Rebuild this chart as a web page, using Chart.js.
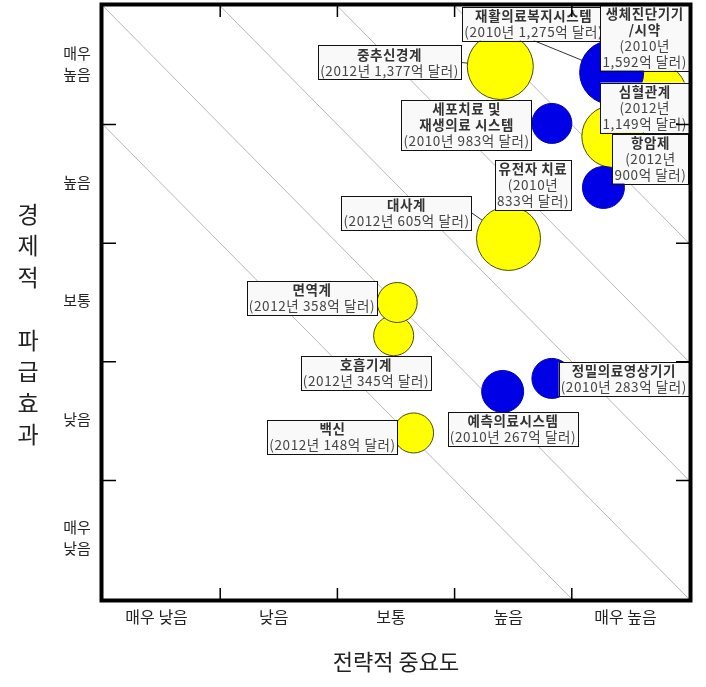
<!DOCTYPE html>
<html>
<head>
<meta charset="utf-8">
<script src="https://cdn.jsdelivr.net/npm/chart.js@4.4.1/dist/chart.umd.min.js"></script>
<style>
  html, body { margin: 0; padding: 0; background: #ffffff; }
  canvas { display: block; }
</style>
</head>
<body>
<canvas id="chart1" width="706" height="687"></canvas>
<script>
// axis categories (5 steps each)
const xLabels = ['매우 낮음', '낮음', '보통', '높음', '매우 높음'];
const yLabels = [['매우', '낮음'], '낮음', '보통', '높음', ['매우', '높음']];

// 2012 market (yellow)
const names2012 = ['중추신경계', '심혈관계', '항암제', '대사계', '호흡기계', '면역계', '백신'];
const value2012 = [1377, 1149, 900, 605, 345, 358, 148];
const strat2012 = [3.39, 4.71, 4.35, 3.46, 2.48, 2.51, 2.65];
const econ2012 = [4.49, 4.25, 3.90, 3.04, 2.22, 2.50, 1.40];
const size2012 = [33, 32, 31, 32, 20, 20, 20];

// 2010 market (blue)
const names2010 = ['생체진단기기/시약', '재활의료복지시스템', '세포치료 및 재생의료 시스템', '유전자 치료', '정밀의료영상기기', '예측의료시스템'];
const value2010 = [1592, 1275, 983, 833, 283, 267];
const strat2010 = [4.65, 4.34, 3.83, 4.27, 3.83, 3.41];
const econ2010 = [4.73, 4.44, 4.01, 3.47, 1.86, 1.75];
const size2010 = [30, 32, 20, 21, 20, 21];

// reference lines x + y = k
const diagonals = [4, 5, 6, 7, 8, 9];

// callout boxes: centre in axis units, optional name wrap / value wrap / leader line side
const labelBoxes = {
  '중추신경계': { at: [2.445, 4.524], link: 'right' },
  '재활의료복지시스템': { at: [3.675, 4.852], link: 'bottom' },
  '생체진단기기/시약': { at: [4.637, 4.734], name: ['생체진단기기', '/시약'], split: true },
  '세포치료 및 재생의료 시스템': { at: [3.102, 3.997], name: ['세포치료 및', '재생의료 시스템'], link: 'right' },
  '심혈관계': { at: [4.637, 4.144], split: true },
  '항암제': { at: [4.671, 3.714], split: true },
  '유전자 치료': { at: [3.669, 3.491], split: true },
  '대사계': { at: [2.590, 3.255], link: 'right' },
  '면역계': { at: [1.783, 2.538] },
  '호흡기계': { at: [2.244, 1.906] },
  '백신': { at: [1.958, 1.370] },
  '예측의료시스템': { at: [3.498, 1.433] },
  '정밀의료영상기기': { at: [4.471, 1.855] }
};

const FONT = '"Noto Sans CJK KR", "Noto Sans", sans-serif';
Chart.defaults.font.family = FONT;

function points(xs, ys, rs) {
  return xs.map((v, i) => ({ x: v, y: ys[i], r: rs[i] }));
}

const items = [];
names2012.forEach((n, i) => items.push({ name: n, year: 2012, value: value2012[i], x: strat2012[i], y: econ2012[i] }));
names2010.forEach((n, i) => items.push({ name: n, year: 2010, value: value2010[i], x: strat2010[i], y: econ2010[i] }));

function setFont(ctx, bold) {
  ctx.font = (bold ? 'bold ' : '') + '13.5px ' + FONT;
  ctx.letterSpacing = '0.6px';
}

function boxRect(ctx, item, area, x, y) {
  const cfg = labelBoxes[item.name];
  const nameLines = cfg.name || [item.name];
  const val = item.value.toLocaleString('en-US') + '억 달러)';
  const valLines = cfg.split ? ['(' + item.year + '년', val] : ['(' + item.year + '년 ' + val];
  setFont(ctx, true);
  let w = Math.max(...nameLines.map(t => ctx.measureText(t).width));
  setFont(ctx, false);
  w = Math.max(w, ...valLines.map(t => ctx.measureText(t).width));
  w += 4;
  const lh = 16;
  const h = (nameLines.length + valLines.length) * lh + 2;
  const cx = x.getPixelForValue(cfg.at[0]);
  const cy = y.getPixelForValue(cfg.at[1]);
  let left = cx - w / 2;
  let edge = false;
  if (left + w > area.right) { left = area.right - w; edge = true; }
  return { left, top: cy - h / 2, w, h, nameLines, valLines, lh, cfg, edge };
}

function drawBox(ctx, b) {
  ctx.fillStyle = '#f9f9f9';
  ctx.fillRect(b.left, b.top, b.w, b.h);
  ctx.strokeStyle = '#111';
  ctx.lineWidth = 1;
  ctx.strokeRect(Math.round(b.left) + 0.5, Math.round(b.top) + 0.5, Math.round(b.w), Math.round(b.h));
  ctx.textAlign = 'center';
  ctx.textBaseline = 'middle';
  const cx = b.left + b.w / 2;
  let ty = b.top + 1 + b.lh / 2;
  setFont(ctx, true);
  ctx.fillStyle = '#333';
  b.nameLines.forEach(t => { ctx.fillText(t, cx, ty); ty += b.lh; });
  setFont(ctx, false);
  ctx.fillStyle = '#444';
  b.valLines.forEach(t => { ctx.fillText(t, cx, ty); ty += b.lh; });
}

const overlay = {
  id: 'overlay',
  beforeDatasetsDraw(chart) {
    const { ctx, chartArea: a, scales: { x, y } } = chart;
    ctx.save();
    ctx.beginPath();
    ctx.rect(a.left, a.top, a.width, a.height);
    ctx.clip();
    ctx.strokeStyle = '#b8b8b8';
    ctx.lineWidth = 1;
    diagonals.forEach(k => {
      ctx.beginPath();
      ctx.moveTo(x.getPixelForValue(k - 5), y.getPixelForValue(5));
      ctx.lineTo(x.getPixelForValue(5), y.getPixelForValue(k - 5));
      ctx.stroke();
    });
    // leader lines
    ctx.strokeStyle = '#333';
    items.forEach(it => {
      const b = boxRect(ctx, it, a, x, y);
      if (!b.cfg.link) return;
      const sx = b.cfg.link === 'right' ? b.left + b.w : b.left + b.w / 2;
      const sy = b.cfg.link === 'right' ? b.top + b.h / 2 : b.top + b.h;
      ctx.beginPath();
      ctx.moveTo(sx, sy);
      ctx.lineTo(x.getPixelForValue(it.x), y.getPixelForValue(it.y));
      ctx.stroke();
    });
    ctx.restore();
  },
  afterDatasetsDraw(chart) {
    const { ctx, chartArea: a, scales: { x, y } } = chart;
    ctx.save();
    // callout boxes (the ones pinned to the right edge go on top)
    const boxes = items.map(it => boxRect(ctx, it, a, x, y));
    boxes.filter(b => !b.edge).forEach(b => drawBox(ctx, b));
    boxes.filter(b => b.edge).forEach(b => drawBox(ctx, b));
    ctx.letterSpacing = '0px';

    // inner tick marks on all four sides
    ctx.strokeStyle = '#000';
    ctx.lineWidth = 1.5;
    for (let v = 1; v < 5; v++) {
      const px = x.getPixelForValue(v);
      const py = y.getPixelForValue(v);
      ctx.beginPath();
      ctx.moveTo(px, a.bottom); ctx.lineTo(px, a.bottom - 11);
      ctx.moveTo(px, a.top); ctx.lineTo(px, a.top + 11);
      ctx.moveTo(a.left, py); ctx.lineTo(a.left + 13, py);
      ctx.moveTo(a.right, py); ctx.lineTo(a.right - 13, py);
      ctx.stroke();
    }
    // heavy frame
    ctx.lineWidth = 4;
    ctx.strokeRect(a.left - 1.5, a.top - 1.5, a.width + 3, a.height + 3);

    // category labels at the middle of each band
    ctx.fillStyle = '#222';
    ctx.textAlign = 'center';
    ctx.textBaseline = 'middle';
    ctx.font = '16px ' + FONT;
    xLabels.forEach((t, i) => {
      ctx.fillText(t, x.getPixelForValue(i + 0.5) - 5, a.bottom + 18);
    });
    ctx.font = '15px ' + FONT;
    yLabels.forEach((t, i) => {
      const lines = Array.isArray(t) ? t : [t];
      const py = y.getPixelForValue(i + 0.5);
      lines.forEach((l, j) => {
        ctx.fillText(l, 77, py + (j - (lines.length - 1) / 2) * 21 - 2);
      });
    });

    // stacked vertical y title
    ctx.font = '23px ' + FONT;
    const chars = '경제적 파급효과'.split('');
    const step = 31.5;
    const mid = (a.top + a.bottom) / 2 + 22;
    chars.forEach((c, i) => {
      ctx.fillText(c, 28, mid + (i - (chars.length - 1) / 2) * step);
    });
    ctx.restore();
  }
};

const ctx = document.getElementById('chart1').getContext('2d');
const myChart = new Chart(ctx, {
  type: 'bubble',
  data: {
    datasets: [
      {
        label: '2010년',
        data: points(strat2010, econ2010, size2010),
        backgroundColor: '#0000e6',
        borderColor: '#0000b0',
        borderWidth: 1
      },
      {
        label: '2012년',
        data: points(strat2012, econ2012, size2012),
        backgroundColor: '#ffff00',
        borderColor: '#4a4a00',
        borderWidth: 1
      }
    ]
  },
  options: {
    responsive: false,
    animation: false,
    events: [],
    layout: { autoPadding: false, padding: { top: 6, right: 17, left: 0, bottom: 0 } },
    plugins: {
      legend: { display: false },
      tooltip: { enabled: false }
    },
    scales: {
      x: {
        type: 'linear',
        min: 0,
        max: 5,
        afterFit: s => { s.height = 88; },
        grid: { display: false, drawTicks: false },
        border: { display: false },
        ticks: { display: false },
        title: {
          display: true,
          text: '전략적 중요도',
          color: '#222',
          font: { size: 22 },
          padding: { top: 0, bottom: 12 }
        }
      },
      y: {
        type: 'linear',
        min: 0,
        max: 5,
        afterFit: s => { s.width = 103; },
        grid: { display: false, drawTicks: false },
        border: { display: false },
        ticks: { display: false }
      }
    }
  },
  plugins: [overlay]
});
</script>
</body>
</html>
